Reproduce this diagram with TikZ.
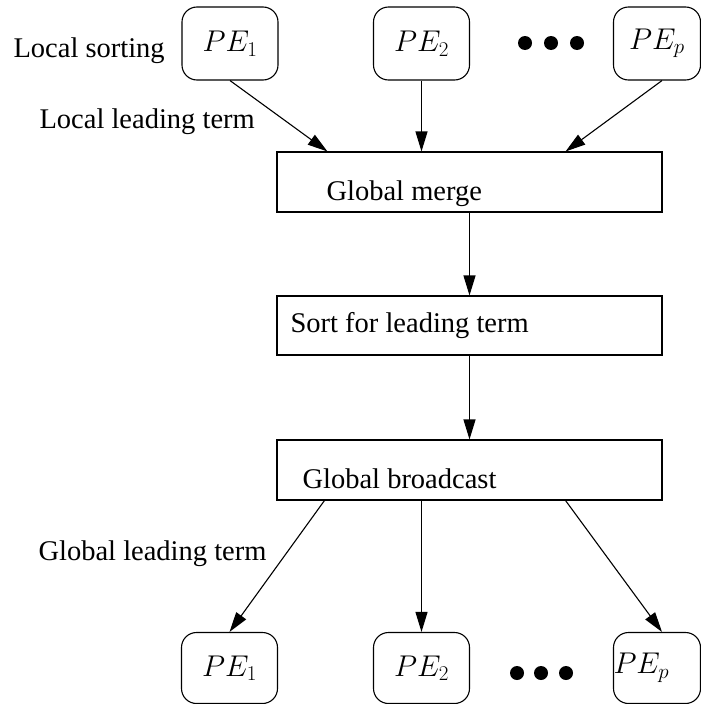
\RequirePackage{fix-cm}
\documentclass[tikz,border=0pt]{standalone}
\usepackage{fontspec}
\setmainfont{Liberation Serif}
\usetikzlibrary{arrows.meta}
\begin{document}
\begin{tikzpicture}[x=1pt,y=-1pt,line width=1.1pt,
  pebox/.style={draw,rounded corners=15pt,minimum width=96pt,minimum height=73pt,inner sep=0pt,
    font=\fontsize{30}{34}\selectfont},
  stagebox/.style={draw,minimum width=385pt,inner sep=0pt},
  lbl/.style={anchor=base west,inner sep=0pt,font=\fontsize{28.5}{33}\selectfont},
  arr/.style={-{Triangle[length=20pt,width=12pt]}}]
\useasboundingbox (0,0) rectangle (701,704);

% processing elements, top row
\node[pebox] (pe1t) at (230,43.5) {$PE_1$};
\node[pebox] (pe2t) at (421.5,43.5) {$PE_2$};
\node[pebox,minimum width=87pt] (pept) at (657,43.5) {$PE_p$};
\foreach \x in {525,551,577} \fill (\x,43) circle (7);

% stages
\node[stagebox,minimum height=60pt] (merge) at (469.5,182) {};
\node[stagebox,minimum height=59pt] (sort) at (469.5,325.5) {};
\node[stagebox,minimum height=60pt] (bcast) at (469.5,470) {};

% processing elements, bottom row
\node[pebox,minimum height=71pt] (pe1b) at (229.5,668) {$PE_1$};
\node[pebox,minimum height=71pt] (pe2b) at (421.5,668) {$PE_2$};
\node[pebox,minimum height=71pt,minimum width=87pt] (pepb) at (657,668) {};
\node[anchor=west,inner sep=0pt,font=\fontsize{30}{34}\selectfont] (pepbt) at (pepb.west) {$PE_p$};
\foreach \x in {517,541,566} \fill (\x,673) circle (7);

% labels
\node[lbl] (ls) at (13,57) {Local sorting};
\node[lbl] (llt) at (39,128) {Local leading term};
\node[lbl] (gm) at (326,200) {Global merge};
\node[lbl] (sl) at (290,332) {Sort for leading term};
\node[lbl] (gb) at (302,488) {Global broadcast};
\node[lbl] (glt) at (38,560) {Global leading term};

% connectors
\draw[arr] (pe1t.south) -- ([xshift=51pt]merge.north west);
\draw[arr] (pe2t.south) -- (pe2t.south |- merge.north);
\draw[arr] ([xshift=5pt]pept.south) -- ([xshift=-97pt]merge.north east);
\draw[arr] (merge.south) -- (sort.north);
\draw[arr] (sort.south) -- (bcast.north);
\draw[arr] ([xshift=48pt]bcast.south west) -- (pe1b.north);
\draw[arr] (pe2b.north |- bcast.south) -- (pe2b.north);
\draw[arr] ([xshift=-97pt]bcast.south east) -- ([xshift=5pt]pepb.north);
\end{tikzpicture}
\end{document}
